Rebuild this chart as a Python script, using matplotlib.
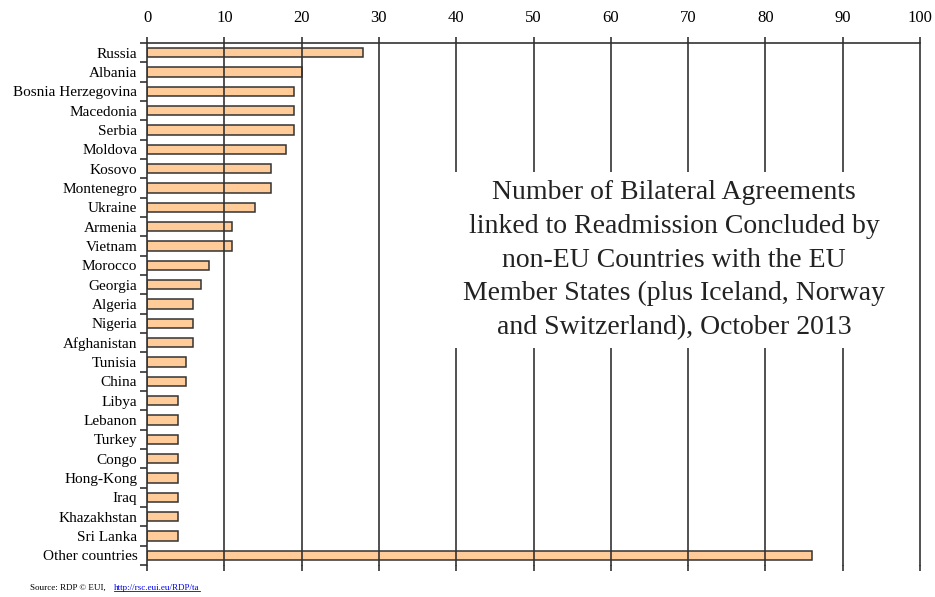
import matplotlib
matplotlib.use("Agg")
import matplotlib.pyplot as plt
import numpy as np

countries = ["Russia", "Albania", "Bosnia Herzegovina", "Macedonia", "Serbia", "Moldova",
             "Kosovo", "Montenegro", "Ukraine", "Armenia", "Vietnam", "Morocco", "Georgia",
             "Algeria", "Nigeria", "Afghanistan", "Tunisia", "China", "Libya", "Lebanon",
             "Turkey", "Congo", "Hong-Kong", "Iraq", "Khazakhstan", "Sri Lanka", "Other countries"]
agreements = [28, 20, 19, 19, 19, 18, 16, 16, 14, 11, 11, 8, 7, 6, 6, 6, 5, 5, 4, 4,
              4, 4, 4, 4, 4, 4, 86]
x_ticks = [0, 10, 20, 30, 40, 50, 60, 70, 80, 90, 100]

title_text = ("Number of Bilateral Agreements\nlinked to Readmission Concluded by\n"
              "non-EU Countries with the EU\nMember States (plus Iceland, Norway\n"
              "and Switzerland), October 2013")

plt.rcParams['font.family'] = ['Liberation Serif', 'DejaVu Serif']

fig = plt.figure(figsize=(9.35, 5.97), dpi=100)
ax = fig.add_axes([147/935, 1 - 565/597, (920-147)/935, (565-43)/597])

y = np.arange(len(countries))
ax.barh(y, agreements, height=0.47, color="#FFCC99", edgecolor="#333333", linewidth=1.1, zorder=2)

ax.set_xlim(0, 100)
ax.set_ylim(len(countries) - 0.5, -0.5)
ax.set_xticks(x_ticks)
ax.xaxis.tick_top()
ax.tick_params(axis='x', which='both', top=True, bottom=True, labeltop=True, labelbottom=False,
               direction='out', length=4, width=1.2, color="#333333", labelsize=12, pad=8)
ax.set_xticklabels([str(v) for v in x_ticks])
for v in x_ticks[1:]:
    ax.axvline(v, color="#333333", linewidth=1.2, zorder=3, clip_on=False)

ax.set_yticks(y)
ax.set_yticklabels(countries, fontsize=11)
ax.tick_params(axis='y', which='major', length=0, pad=7)
ax.set_yticks(np.arange(-0.5, len(countries) + 0.5, 1), minor=True)
ax.tick_params(axis='y', which='minor', length=5, width=1.2, color="#333333", direction='out')

for s in ['right', 'bottom']:
    ax.spines[s].set_visible(False)
for s in ['top', 'left']:
    ax.spines[s].set_color("#333333")
    ax.spines[s].set_linewidth(1.2)
    ax.spines[s].set_zorder(4)

ax.text(0.682, 0.584, title_text, transform=ax.transAxes, ha='center', va='center',
        fontsize=20, linespacing=1.45, color="#222222", zorder=5,
        bbox=dict(facecolor='white', edgecolor='none', pad=6))

src_family = ['Liberation Sans Narrow', 'Liberation Serif']
fig.text(30/935, 1 - 588/597, "Source: RDP © EUI,", fontsize=6.5, ha='left', va='center',
         family=src_family)
link = fig.text(114/935, 1 - 588/597, "http://rsc.eui.eu/RDP/ta", fontsize=6.5,
                ha='left', va='center', color="#0000EE", family=src_family)
fig.canvas.draw()
bb = link.get_window_extent()
fig.add_artist(plt.Line2D([bb.x0 / fig.bbox.width, bb.x1 / fig.bbox.width],
                          [bb.y0 / fig.bbox.height + 0.001] * 2, color="#0000EE", linewidth=0.6))

fig.savefig("out.png", dpi=100)
